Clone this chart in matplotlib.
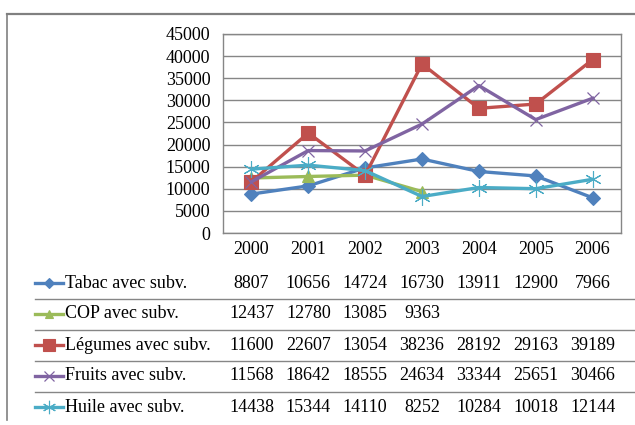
import matplotlib.pyplot as plt
import matplotlib as mpl
import matplotlib.transforms as mtransforms
from matplotlib.lines import Line2D

# ===== data =====
years = ["2000", "2001", "2002", "2003", "2004", "2005", "2006"]
tabac = [8807, 10656, 14724, 16730, 13911, 12900, 7966]
cop = [12437, 12780, 13085, 9363]
legumes = [11600, 22607, 13054, 38236, 28192, 29163, 39189]
fruits = [11568, 18642, 18555, 24634, 33344, 25651, 30466]
huile = [14438, 15344, 14110, 8252, 10284, 10018, 12144]

series_names = ["Tabac avec subv.", "COP avec subv.", "Légumes avec subv.",
                "Fruits avec subv.", "Huile avec subv."]
series_values = [tabac, cop, legumes, fruits, huile]

colors = ["#4F81BD", "#9BBB59", "#C0504D", "#8064A2", "#4BACC6"]
markers = ["D", "^", "s", "x", (6, 2, 0)]
msizes = [7, 8, 10, 9, 12]
medge = [0.8, 0.8, 0.8, 0.9, 0.8]

mpl.rcParams.update({
    "font.family": ["Liberation Serif", "DejaVu Serif"],
    "font.size": 13,
})

W, H = 635, 425
fig = plt.figure(figsize=(W / 100, H / 100), dpi=100)
ax = fig.add_axes([223 / W, 1 - 233 / H, (621 - 223) / W, (233 - 34) / H])

x = list(range(len(years)))
for name, vals, c, m, ms, mew in zip(series_names, series_values, colors, markers, msizes, medge):
    ax.plot(x[:len(vals)], vals, color=c, marker=m, markersize=ms, linewidth=2.4,
            markeredgewidth=mew, markeredgecolor=c, label=name, solid_joinstyle="round")

ax.set_xlim(-0.5, len(years) - 0.5)
ax.set_ylim(0, 45000)
ax.set_yticks(range(0, 45001, 5000))
ax.set_xticks(x)
ax.set_xticklabels(years)
ax.grid(axis="y", color="#868686", linewidth=1.0)
ax.set_axisbelow(True)
for s in ax.spines.values():
    s.set_color("#868686")
    s.set_linewidth(1.0)
ax.tick_params(length=0, pad=9)
ax.tick_params(axis="x", pad=6)

# ===== data table =====
row_y = [283, 314, 345, 376, 407]
sep_y = [298.5, 329.5, 360.5, 391.5]
trans = mtransforms.blended_transform_factory(ax.transData, fig.transFigure)

for yy in sep_y:
    fig.add_artist(Line2D([35 / W, 1.0], [1 - yy / H] * 2, color="#868686",
                          linewidth=1.0, transform=fig.transFigure))

for ry, name, vals, c, m, ms, mew in zip(row_y, series_names, series_values, colors,
                                         markers, msizes, medge):
    fy = 1 - ry / H
    fig.add_artist(Line2D([35 / W, 63 / W], [fy, fy], color=c, linewidth=2.4,
                          transform=fig.transFigure))
    fig.add_artist(Line2D([49 / W], [fy], color=c, marker=m, markersize=ms * 0.8,
                          markeredgecolor=c, markeredgewidth=mew, linestyle="none",
                          transform=fig.transFigure))
    fig.text(65 / W, fy, name, ha="left", va="center")
    for xi, v in zip(x, vals):
        fig.text(xi, fy, str(v), transform=trans, ha="center", va="center")

# ===== outer frame =====
fig.add_artist(Line2D([7 / W, 1.0], [1 - 14 / H] * 2, color="#808080",
                      linewidth=1.6, transform=fig.transFigure))
fig.add_artist(Line2D([7 / W, 7 / W], [1 - 14 / H, 1 - 420 / H], color="#808080",
                      linewidth=1.2, transform=fig.transFigure))

fig.savefig("out.png", dpi=100)
